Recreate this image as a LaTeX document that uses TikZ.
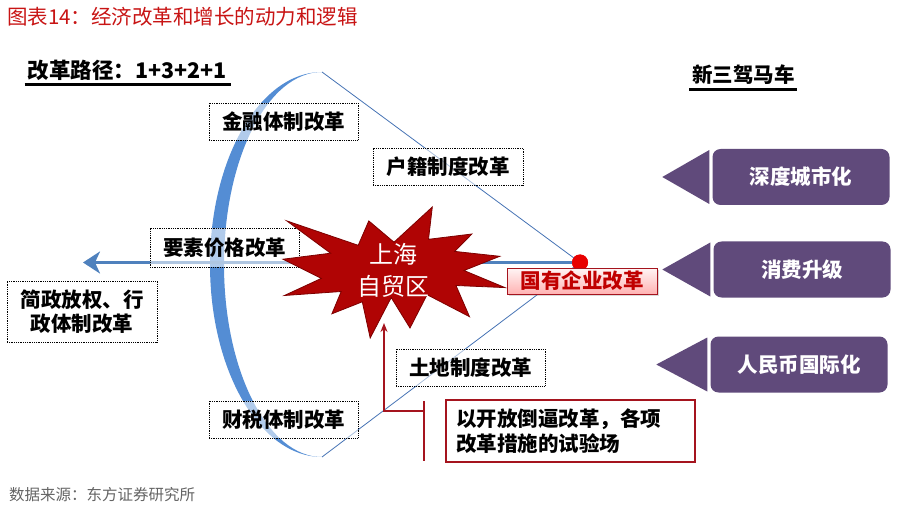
\documentclass[tikz,border=0pt]{standalone}
\usepackage{fontspec}
\setmainfont{Noto Sans CJK SC}[BoldFont={Noto Sans CJK SC Black}]
\usepackage{xcolor}
\usepackage{tikz}
\usetikzlibrary{arrows.meta, positioning, shadows}

\definecolor{titlered}{RGB}{200,20,20}
\definecolor{starred}{RGB}{176,4,4}
\definecolor{stardark}{RGB}{125,0,0}
\definecolor{arcblue}{RGB}{84,141,212}
\definecolor{lineblue}{RGB}{70,115,180}
\definecolor{arrowblue}{RGB}{79,129,189}
\definecolor{dotred}{RGB}{232,0,0}
\definecolor{soered}{RGB}{192,0,0}
\definecolor{notered}{RGB}{165,20,30}
\definecolor{driverpurple}{RGB}{96,74,123}
\definecolor{srcgray}{RGB}{100,100,100}

\begin{document}
\begin{tikzpicture}[
    x=1pt, y=-1pt,
    reform/.style={
        rectangle,
        draw=black,
        densely dotted,
        line width=0.8pt,
        fill=white,
        fill opacity=0.55,
        text opacity=1,
        minimum width=149pt,
        minimum height=37pt,
        inner sep=2pt,
        align=center,
        font=\fontsize{20.5}{24}\selectfont\bfseries
    },
    driver/.style={
        rectangle,
        fill=driverpurple,
        rounded corners=8pt,
        minimum width=177pt,
        minimum height=56pt,
        text=white,
        font=\fontsize{20.5}{24}\selectfont\bfseries
    },
    soe/.style={
        rectangle,
        draw=notered,
        line width=0.6pt,
        top color=red!4,
        bottom color=red!30,
        drop shadow={shadow xshift=1.5pt, shadow yshift=-1.5pt, opacity=0.3},
        minimum width=150pt,
        minimum height=26pt,
        inner sep=0pt,
        text=soered,
        font=\fontsize{20.5}{24}\selectfont\bfseries
    },
    note/.style={
        rectangle,
        draw=notered,
        line width=1.8pt,
        fill=white,
        text width=229pt,
        inner xsep=10pt,
        minimum height=62pt,
        align=left,
        font=\fontsize{20.5}{25}\selectfont\bfseries
    },
    header/.style={inner sep=0pt, font=\fontsize{21.5}{24}\selectfont\bfseries},
    uline/.style={line width=3pt},
    thinline/.style={draw=lineblue, line width=0.8pt},
    flow/.style={draw=arrowblue, line width=3.5pt, -{Stealth[length=17pt, width=22pt, inset=5pt]}},
    burst/.style={fill=starred, draw=stardark, line width=0.8pt, line join=miter},
    pointer/.style={draw=notered, line width=1.5pt, -{Stealth[length=9pt, width=7pt]}}
]
\useasboundingbox (0,0) rectangle (897,505);

% Title and headings
\node[anchor=west, inner sep=0pt, text=titlered, font=\fontsize{20.5}{22}\selectfont] (title) at (7,17) {图表14：经济改革和增长的动力和逻辑};
\node[header] (pathlbl) at (127.5,70) {改革路径：1+3+2+1};
\draw[uline] ([xshift=-3pt, yshift=-14.5pt]pathlbl.west) -- ([xshift=4pt, yshift=-14.5pt]pathlbl.east);
\node[header, font=\fontsize{20.5}{24}\selectfont\bfseries] (carts) at (743.5,75) {新三驾马车};
\draw[uline] ([xshift=-3pt, yshift=-15pt]carts.west) -- ([xshift=2pt, yshift=-15pt]carts.east);

% Reform arc
\coordinate (arctop) at (322,72);
\coordinate (arcbot) at (322,457);
\fill[arcblue] (arctop) arc[start angle=90, end angle=270, x radius=112pt, y radius=192.5pt]
    arc[start angle=270, end angle=90, x radius=98pt, y radius=192.5pt] -- cycle;

% Red dot, spokes and main arrow
\node[circle, fill=dotred, minimum size=16pt, inner sep=0pt] (dot) at (580,262.5) {};
\coordinate (lefttip) at (83,262.5);
\draw[thinline] (arctop) -- (dot.center);
\draw[thinline] (arcbot) -- (dot.center);
\draw[flow] (dot.center) -- (lefttip);
\node[circle, fill=dotred, minimum size=16pt, inner sep=0pt] at (dot) {};

% Reform boxes
\node[reform] (fin) at (283.5,121.5) {金融体制改革};
\node[reform, minimum width=150pt] (hukou) at (448,166.5) {户籍制度改革};
\node[reform, minimum height=39pt] (factor) at (224.5,247.5) {要素价格改革};
\node[reform, minimum width=150pt, minimum height=61pt] (admin) at (82,311.5) {简政放权、行\\政体制改革};
\node[reform] (land) at (470.5,367.5) {土地制度改革};
\node[reform] (tax) at (283.5,419.5) {财税体制改革};

% Free trade zone burst
\draw[burst] (394.0,242.2) -- (432.3,207) -- (428.5,239.3) -- (471.9,234.0) -- (454.7,251.4)
    -- (499.8,256.3) -- (464.0,270.5) -- (505,287.6) -- (456.0,285.5) -- (469.5,316.7)
    -- (427.1,294.7) -- (410,328) -- (391.2,297.6) -- (370.2,338) -- (362.3,301.8)
    -- (331.9,313.8) -- (341.2,291.5) -- (284.4,295.5) -- (321.3,278.4) -- (283,259.2)
    -- (330.6,253.2) -- (286.8,220.9) -- (358.2,245.3) -- (368.8,220.9) -- cycle;
\node[align=center, text=white, font=\fontsize{24}{32}\selectfont] (ftz) at (393,270) {上海\\自贸区};

\node[soe] (soe) at (582,281) {国有企业改革};

% Pilot note
\node[note] (note) at (570.5,431) {以开放倒逼改革，各项\\改革措施的试验场};
\coordinate (burstfoot) at (384,323);
\draw[notered, line width=1.8pt] ([xshift=-21pt, yshift=-2pt]note.north west) -- ([xshift=-21pt, yshift=2pt]note.south west);
\draw[pointer] ([xshift=-21pt]note.north west |- 0,411) -| (burstfoot);

% New troika
\node[driver] (dr1) at (801,177) {深度城市化};
\node[driver] (dr2) at (802,269.5) {消费升级};
\node[driver] (dr3) at (799,364.5) {人民币国际化};
\fill[driverpurple] ([xshift=-3pt]dr1.west) ++(0,-27) -- ++(-47,27) -- ++(47,27) -- cycle;
\fill[driverpurple] ([xshift=-3pt]dr2.west) ++(0,-27) -- ++(-48,27) -- ++(48,27) -- cycle;
\fill[driverpurple] ([xshift=-3pt]dr3.west) ++(0,-27) -- ++(-51,27) -- ++(51,27) -- cycle;

% Source
\node[anchor=west, inner sep=0pt, text=srcgray, font=\fontsize{15.5}{18}\selectfont] (src) at (9,495) {数据来源：东方证券研究所};

\end{tikzpicture}
\end{document}
